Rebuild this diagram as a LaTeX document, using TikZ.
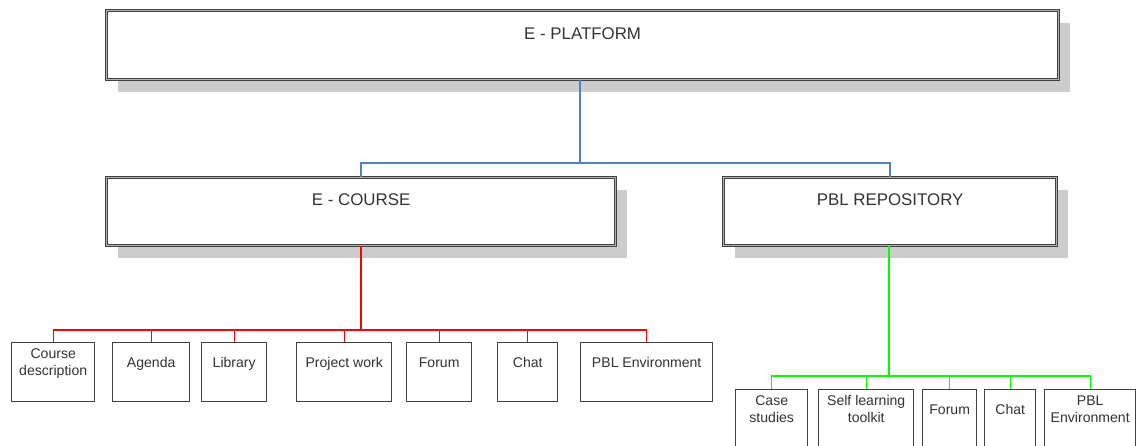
\documentclass[tikz,border=0pt]{standalone}
\usepackage{fontspec}
\setmainfont{Liberation Sans}
\usepackage{tikz}
\usetikzlibrary{shadows, positioning}
\newlength\pxu
\setlength\pxu{0.025cm}
\definecolor{linkblue}{RGB}{79,129,189}
\definecolor{linkred}{RGB}{255,0,0}
\definecolor{linkgreen}{RGB}{0,255,0}
\definecolor{boxline}{RGB}{64,64,64}

\begin{document}
\begin{tikzpicture}[x=0.025cm, y=-0.025cm,
        bigbox/.style={draw=boxline, double=black!30, double distance=0.7pt, line width=0.8pt, fill=white,
            anchor=north west, inner xsep=0pt, inner ysep=0pt, text=black!80,
            font=\fontsize{12}{14}\selectfont, drop shadow={shadow xshift=11*\pxu, shadow yshift=-12*\pxu, fill=black!20, opacity=1}},
        smallbox/.style={draw=boxline, line width=1pt, fill=white, anchor=north west, inner xsep=0pt, inner ysep=0pt,
            align=center, text=black!80, font=\fontsize{10}{12}\selectfont},
        blueline/.style={draw=linkblue, line width=1.2pt},
        trunk/.style={line width=2pt},
        branch/.style={line width=0.8pt}]
    \useasboundingbox (0, 0) rectangle (1136, 446);
    \clip (0, 0) rectangle (1136, 446);

    % top level
    \node[bigbox, minimum width=952*\pxu, text height=29*\pxu, text depth=40*\pxu] (platform) at (106, 10) {E - PLATFORM};

    % second level
    \node[bigbox, minimum width=509*\pxu, text height=28*\pxu, text depth=40*\pxu] (course) at (106, 177) {E - COURSE};
    \node[bigbox, minimum width=333*\pxu, text height=28*\pxu, text depth=40*\pxu] (repo) at (723, 177) {PBL REPOSITORY};

    % course items
    \node[smallbox, minimum width=83*\pxu, text height=33*\pxu, text depth=26*\pxu] (cdesc) at (11, 342) {Course\\description};
    \node[smallbox, minimum width=77*\pxu, text height=25*\pxu, text depth=34*\pxu] (agenda) at (112, 342) {Agenda};
    \node[smallbox, minimum width=65*\pxu, text height=25*\pxu, text depth=34*\pxu] (library) at (201, 342) {Library};
    \node[smallbox, minimum width=95*\pxu, text height=25*\pxu, text depth=34*\pxu] (project) at (296, 342) {Project work};
    \node[smallbox, minimum width=65*\pxu, text height=25*\pxu, text depth=34*\pxu] (forum) at (406, 342) {Forum};
    \node[smallbox, minimum width=60*\pxu, text height=25*\pxu, text depth=34*\pxu] (chat) at (497, 342) {Chat};
    \node[smallbox, minimum width=132*\pxu, text height=25*\pxu, text depth=34*\pxu] (pblenv) at (580, 342) {PBL Environment};

    % repository items
    \node[smallbox, minimum width=72*\pxu, text height=33*\pxu, text depth=44*\pxu] (cases) at (735, 389) {Case\\studies};
    \node[smallbox, minimum width=95*\pxu, text height=33*\pxu, text depth=44*\pxu] (toolkit) at (818, 389) {Self learning\\toolkit};
    \node[smallbox, minimum width=54*\pxu, text height=25*\pxu, text depth=52*\pxu] (rforum) at (922, 389) {Forum};
    \node[smallbox, minimum width=51*\pxu, text height=25*\pxu, text depth=52*\pxu] (rchat) at (984, 389) {Chat};
    \node[smallbox, minimum width=91*\pxu, text height=33*\pxu, text depth=44*\pxu] (rpblenv) at (1044, 389) {PBL\\Environment};

    % connectors
    \coordinate (bbar) at (580, 163);
    \coordinate (rbar) at (361, 330);
    \coordinate (gbar) at (889, 376);

    \draw[blueline] (platform.south -| bbar) -- (bbar);
    \draw[blueline] (course.north) |- (bbar) -| (repo.north);

    \draw[linkred, trunk] (course.south -| rbar) -- (rbar);
    \draw[linkred, branch] (cdesc.north) |- (rbar) -| (pblenv.north);
    \foreach \n in {agenda, library, project, forum, chat}
        \draw[linkred, branch] (\n.north) -- (\n.north |- rbar);

    \draw[linkgreen, trunk] (repo.south -| gbar) -- (gbar);
    \draw[linkgreen, branch] (cases.north) |- (gbar) -| (rpblenv.north);
    \foreach \n in {toolkit, rforum, rchat}
        \draw[linkgreen, branch] (\n.north) -- (\n.north |- gbar);
\end{tikzpicture}
\end{document}
